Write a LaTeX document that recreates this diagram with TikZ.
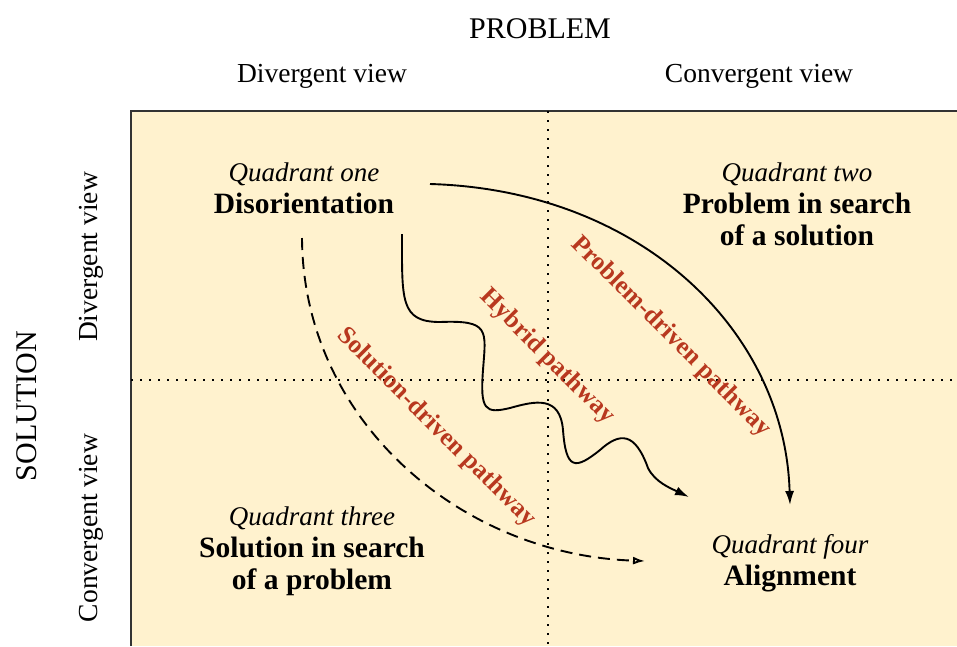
\documentclass[tikz,border=0pt]{standalone}
\usepackage{fontspec}
\setmainfont{Liberation Serif}
\usetikzlibrary{arrows.meta}

\definecolor{quadfill}{HTML}{FFF2CE}
\definecolor{pathred}{HTML}{B8381F}

\newcommand{\qtitle}[1]{{\fontsize{27}{32}\selectfont\itshape #1}}
\newcommand{\qname}[1]{{\fontsize{29.5}{32}\selectfont\bfseries #1}}

\tikzset{
    axislabel/.style={font=\fontsize{27.5}{32}\selectfont},
    bigaxis/.style={font=\fontsize{30}{34}\selectfont},
    quadlabel/.style={align=center, font=\fontsize{27}{32}\selectfont},
    pathlabel/.style={text=pathred, font=\fontsize{25.5}{30}\selectfont\bfseries, rotate=-45},
    gridline/.style={line width=1.6pt, dash pattern=on 1.6pt off 7.4pt},
    pathway/.style={line width=1.9pt, -{Latex[length=14pt,width=9pt]}},
}

\begin{document}
\begin{tikzpicture}[x=1pt,y=-1pt]
        \useasboundingbox (0,0) rectangle (957,646);

        \fill[quadfill] (131,111) rectangle (957,646);
        \draw[line width=2pt, black!80] (131,646) -- (131,111) -- (957,111);

        \coordinate (midtop) at (548,111);
        \coordinate (midbot) at (548,646);
        \coordinate (midleft) at (131,380);
        \coordinate (midright) at (957,380);
        \draw[gridline] (midtop) -- (midbot);
        \draw[gridline] (midleft) -- (midright);

        \node[bigaxis] (problem) at (540,29) {PROBLEM};
        \node[axislabel] (pdiv) at (322,76) {Divergent view};
        \node[axislabel] (pconv) at (759,76) {Convergent view};
        \node[bigaxis, rotate=90] (solution) at (27,406) {SOLUTION};
        \node[axislabel, rotate=90] (sdiv) at (91,257) {Divergent view};
        \node[axislabel, rotate=90] (sconv) at (91,528) {Convergent view};

        \node[quadlabel] (qone) at (304,188) {\qtitle{Quadrant one}\\\qname{Disorientation}};
        \node[quadlabel] (qtwo) at (797,204) {\qtitle{Quadrant two}\\\qname{Problem in search}\\\qname{of a solution}};
        \node[quadlabel] (qthree) at (312,551) {\qtitle{Quadrant three}\\\qname{Solution in search}\\\qname{of a problem}};
        \node[quadlabel] (qfour) at (790,563) {\qtitle{Quadrant four}\\\qname{Alignment}};

        \coordinate (pstart) at (430,184);
        \coordinate (pend) at (790,505);
        \coordinate (hstart) at (402,234);
        \coordinate (hend) at (689,497);
        \coordinate (sstart) at (302,238);
        \coordinate (send) at (645,561);

        \draw[pathway] (pstart) .. controls (640,190) and (785,330) .. (pend);
        \draw[pathway] (hstart) .. controls (402,300) and (400,322) .. (440,322)
            .. controls (490,320) and (486,330) .. (483,370)
            .. controls (480,410) and (485,414) .. (510,408)
            .. controls (535,401) and (560,395) .. (563,430)
            .. controls (566,470) and (575,470) .. (600,450)
            .. controls (620,432) and (635,432) .. (648,468)
            .. controls (655,482) and (670,488) .. (hend);
        \draw[line width=1.9pt, dash pattern=on 12pt off 7pt, -{Latex[open,length=12pt,width=8pt]}]
            (sstart) .. controls (303,420) and (460,555) .. (send);

        \node[pathlabel] (lblproblem) at (671,337) {Problem-driven pathway};
        \node[pathlabel] (lblhybrid) at (547,357) {Hybrid pathway};
        \node[pathlabel] (lblsolution) at (436,428) {Solution-driven pathway};
\end{tikzpicture}
\end{document}
